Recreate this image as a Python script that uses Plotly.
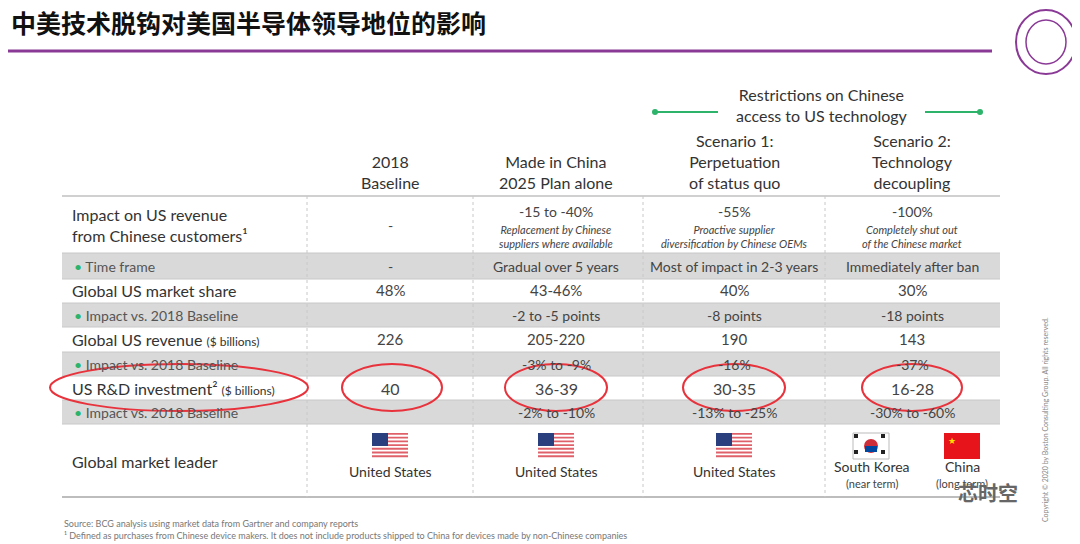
import plotly.graph_objects as go

title = "中美技术脱钩对美国半导体领导地位的影响"
col_headers = ["2018<br>Baseline", "Made in China<br>2025 Plan alone",
               "Scenario 1:<br>Perpetuation<br>of status quo", "Scenario 2:<br>Technology<br>decoupling"]
group_header = "Restrictions on Chinese<br>access to US technology"
row_labels = ["Impact on US revenue<br>from Chinese customers¹", "• Time frame", "Global US market share",
              "• Impact vs. 2018 Baseline", "Global US revenue <span style='font-size:12px'>($ billions)</span>",
              "• Impact vs. 2018 Baseline", "US R&D investment² <span style='font-size:12px'>($ billions)</span>",
              "• Impact vs. 2018 Baseline", "Global market leader"]
impact_main = ["-", "-15 to -40%", "-55%", "-100%"]
impact_sub = ["", "Replacement by Chinese<br>suppliers where available",
              "Proactive supplier<br>diversification by Chinese OEMs",
              "Completely shut out<br>of the Chinese market"]
time_frame = ["-", "Gradual over 5 years", "Most of impact in 2-3 years", "Immediately after ban"]
market_share = ["48%", "43-46%", "40%", "30%"]
share_impact = ["", "-2 to -5 points", "-8 points", "-18 points"]
revenue = ["226", "205-220", "190", "143"]
revenue_impact = ["", "-3% to -9%", "-16%", "-37%"]
rd = ["40", "36-39", "30-35", "16-28"]
rd_impact = ["", "-2% to -10%", "-13% to -25%", "-30% to -60%"]
leader = ["United States", "United States", "United States", None]
footnotes = ["Source: BCG analysis using market data from Gartner and company reports",
             "¹ Defined as purchases from Chinese device makers. It does not include products shipped to China for devices made by non-Chinese companies"]

FONT = "Lato"
TXT = "#444444"
cx = [390, 556, 734, 912]
dividers = [307, 473, 643, 825]
L, R = 62, 1000
bands = [(197, 253, False), (253, 279, True), (279, 303, False), (303, 327, True), (327, 352, False),
         (352, 376, True), (376, 400, False), (400, 424, True), (424, 497, False)]

fig = go.Figure()
shapes, ann = [], []

def T(x, y, s, size=15, color=TXT, xa="center", **kw):
    ann.append(dict(x=x, y=y, text=s, showarrow=False, xanchor=xa, yanchor="middle",
                    font=dict(family=kw.pop("family", FONT), size=size, color=color), **kw))

for t, b, g in bands:
    if g:
        shapes.append(dict(type="rect", x0=L, x1=R, y0=t, y1=b, fillcolor="#d9d9d9", line_width=0, layer="below"))
    shapes.append(dict(type="line", x0=L, x1=R, y0=b, y1=b, line=dict(color="#c8c8c8", width=1)))
shapes.append(dict(type="line", x0=L, x1=R, y0=196, y1=196, line=dict(color="#d0d0d0", width=2)))
shapes.append(dict(type="line", x0=L, x1=R, y0=497, y1=497, line=dict(color="#bdbdbd", width=2)))
for d in dividers:
    shapes.append(dict(type="line", x0=d, x1=d, y0=196, y1=497, line=dict(color="#c8c8c8", width=1, dash="dot")))

T(9, 22, "<b>" + title + "</b>", size=25, color="#111111", xa="left", family="Noto Sans CJK SC")
shapes.append(dict(type="line", x0=8, x1=992, y0=51, y1=51, line=dict(color="#8a3a96", width=3)))
shapes.append(dict(type="circle", x0=1016, y0=10, x1=1076, y1=74, line=dict(color="#8a3a96", width=2)))
shapes.append(dict(type="circle", x0=1026, y0=20, x1=1066, y1=64, line=dict(color="#8a3a96", width=1.5)))

for i, h in enumerate(col_headers):
    n = h.count("<br>") + 1
    T(cx[i], 183 - (n - 1) * 11, h, size=16, color="#333")
T(822, 105, group_header, size=16, color="#333")
for x0, x1 in [(655, 718), (925, 980)]:
    shapes.append(dict(type="line", x0=x0, x1=x1, y0=112, y1=112, line=dict(color="#2db36a", width=2)))
for x in [655, 980]:
    shapes.append(dict(type="circle", x0=x - 3, x1=x + 3, y0=109, y1=115, fillcolor="#2db36a", line_width=0))

label_y = [225, 266, 290, 315, 339, 364, 388, 412, 461]
for lab, y in zip(row_labels, label_y):
    sub = lab.startswith("•")
    txt = lab.replace("•", "<span style='color:#2db36a'>•</span>")
    T(70 if not sub else 72, y, txt, size=14 if sub else 16, xa="left", align="left",
      color="#555" if sub else "#333")

for i in range(4):
    T(cx[i], 211 if impact_sub[i] else 225, impact_main[i], size=14)
    if impact_sub[i]:
        T(cx[i], 236, "<i>" + impact_sub[i] + "</i>", size=11)
    T(cx[i], 266, time_frame[i], size=14)
    T(cx[i], 290, market_share[i], size=15)
    T(cx[i], 315, share_impact[i], size=14)
    T(cx[i], 339, revenue[i], size=15)
    T(cx[i], 364, revenue_impact[i], size=14)
    T(cx[i], 388, rd[i], size=16)
    T(cx[i], 412, rd_impact[i], size=14)
    if leader[i]:
        T(cx[i], 471, leader[i], size=14, color="#333")

def us_flag(x, y):
    w, h = 36, 26
    for k in range(7):
        shapes.append(dict(type="rect", x0=x - w/2, x1=x + w/2, y0=y + k*h/7, y1=y + (k+0.5)*h/7,
                           fillcolor="#e0606a", line_width=0))
    shapes.append(dict(type="rect", x0=x - w/2, x1=x - w/2 + 16, y0=y, y1=y + 13, fillcolor="#2a3f7e", line_width=0))
for i in range(3):
    us_flag(cx[i], 433)
shapes.append(dict(type="rect", x0=853, x1=889, y0=433, y1=459, fillcolor="white", line=dict(color="#bbb", width=1)))
shapes.append(dict(type="circle", x0=864, x1=878, y0=439, y1=453, fillcolor="#cd2e3a", line_width=0))
shapes.append(dict(type="rect", x0=865, x1=877, y0=446, y1=452, fillcolor="#0047a0", line_width=0))
for bx in [856, 883]:
    for by in [436, 452]:
        shapes.append(dict(type="rect", x0=bx - 2, x1=bx + 2, y0=by - 2, y1=by + 2, fillcolor="#222", line_width=0))
shapes.append(dict(type="rect", x0=944, x1=980, y0=433, y1=459, fillcolor="#e8141c", line_width=0))
T(952, 440, "★", size=9, color="#ffde00")
T(872, 466, "South Korea", size=14, color="#333")
T(872, 483, "(near term)", size=11)
T(962, 466, "China", size=14, color="#333")
T(962, 483, "(long term)", size=11)

for x0, x1 in [(50, 308), (342, 442), (505, 607), (683, 785), (862, 962)]:
    shapes.append(dict(type="circle", x0=x0, x1=x1, y0=364, y1=411, line=dict(color="#e8323c", width=2)))

for k, f in enumerate(footnotes):
    T(62, 523 + k * 12, f, size=9, xa="left", color="#777")
T(1045, 420, "Copyright © 2020 by Boston Consulting Group. All rights reserved.", size=7, color="#888",
  textangle=-90)
T(988, 492, "<b>芯时空</b>", size=20, color="#666", family="Noto Sans CJK SC")

fig.update_layout(width=1080, height=544, margin=dict(l=0, r=0, t=0, b=0), plot_bgcolor="white",
                  paper_bgcolor="white", shapes=shapes, annotations=ann, showlegend=False,
                  xaxis=dict(range=[8, 1088], visible=False, fixedrange=True),
                  yaxis=dict(range=[552, 8], visible=False, fixedrange=True))
fig.write_html("out.html")
